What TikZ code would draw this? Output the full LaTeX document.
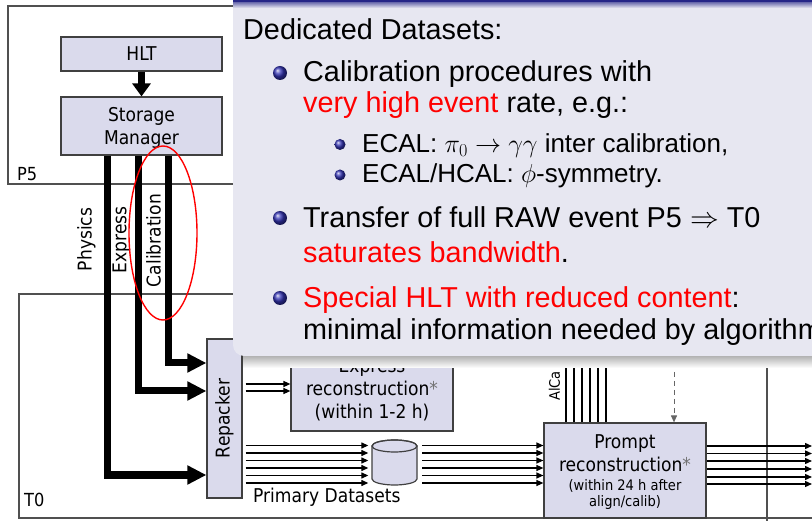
\RequirePackage{fix-cm}
\documentclass[tikz,border=0pt]{standalone}
\usepackage{fontspec}
\setmainfont{Liberation Sans}
\newfontfamily\dgfont{DejaVu Sans Condensed}
\usetikzlibrary{arrows.meta}
\definecolor{boxfill}{RGB}{218,218,236}
\definecolor{panel}{RGB}{231,231,241}
\definecolor{navy}{RGB}{38,38,135}
\definecolor{ballblue}{RGB}{51,51,179}
\definecolor{framegray}{RGB}{80,80,80}

\begin{document}
\begin{tikzpicture}[x=1pt,y=-1pt,
  site/.style={draw=framegray, line width=1.2pt},
  box/.style={draw=black!75, fill=boxfill, line width=1.2pt, inner sep=0},
  lbl/.style={font=\dgfont\fontsize{19}{23}\selectfont, inner sep=0, align=center},
  smalllbl/.style={font=\dgfont\fontsize{14.5}{15.5}\selectfont, inner sep=0, align=center},
  sitelbl/.style={font=\dgfont\fontsize{18}{20}\selectfont, inner sep=0},
  chan/.style={line width=7pt},
  bigtip/.style={-{Triangle[length=19pt,width=18pt]}},
  flow/.style={line width=1.3pt, -{Triangle[length=7pt,width=6pt]}},
  stream/.style={line width=1.3pt},
  txt/.style={anchor=base west, inner sep=0, font=\fontsize{28.8}{33}\selectfont},
  subtxt/.style={anchor=base west, inner sep=0, font=\fontsize{26}{30}\selectfont}]
\useasboundingbox (0,0) rectangle (812,521);
\fill[white] (0,0) rectangle (812,521);

% --- sites ---
\draw[site] (8,6) rectangle (300,184);
\node[sitelbl, anchor=west] (p5) at (17,174) {P5};
\draw[site] (19,294) rectangle (860,518);
\node[sitelbl, anchor=west] (t0) at (24,500) {T0};
\draw[site] (767,345) -- (767,530);

% --- online part ---
\node[box, lbl, minimum width=161pt, minimum height=34pt] (hlt) at (141.5,54) {HLT};
\node[box, minimum width=161pt, minimum height=58pt] (sm) at (141.5,126) {};
\node[lbl] (smlbl) at (141.5,127.5) {Storage\\Manager};
\draw[chan, -{Triangle[length=13pt,width=18pt]}] (hlt) -- (sm);

% --- Tier-0 processing ---
\node[box, minimum width=35pt, minimum height=159pt] (rep) at (224.5,418.5) {};
\node[lbl, rotate=90] (replbl) at (rep.center) {Repacker};

\node[box, minimum width=162pt, minimum height=96pt] (expr) at (372,383) {};
\node[lbl] (exprlbl) at (372,390) {Express\\reconstruction{\color{black!55}*}\\(within 1-2 h)};

\node[box, minimum width=162pt, minimum height=95pt] (prompt) at (625,470.5) {};
\node[lbl] (prlbl) at (625,453) {Prompt\\reconstruction{\color{black!55}*}};
\node[smalllbl] (prsub) at (625,494.5) {(within 24 h after\\align/calib)};

% primary dataset store
\node[inner sep=0, minimum width=52pt, minimum height=45pt] (db) at (394.5,462.5) {};
\filldraw[box] (372,446) -- (372,479) arc[start angle=180, end angle=0, x radius=22.5, y radius=6]
  -- (417,446) arc[start angle=0, end angle=-180, x radius=22.5, y radius=6] -- cycle;
\draw[line width=1.2pt, black!75] (394.5,446) ellipse [x radius=22.5, y radius=6];
\node[lbl, anchor=base west] (pdlbl) at (253,503) {Primary Datasets};

% streams out of the storage manager
\draw[chan, bigtip] (sm.south -| 107,0) |- (rep.west |- 0,475);
\draw[chan, bigtip] (sm.south -| 138.5,0) |- (rep.west |- 0,391);
\draw[chan, bigtip] (sm.south -| 168,0) |- (rep.west |- 0,363);
\node[lbl, rotate=90] (physlbl) at (86.5,239.5) {Physics};
\node[lbl, rotate=90] (explbl) at (121.5,240) {Express};
\node[lbl, rotate=90] (callbl) at (153.5,240.5) {Calibration};
\draw[red, line width=1.4pt] (163,233) ellipse [x radius=34, y radius=87];

% repacker outputs
\foreach \y in {384,391}
  \draw[flow, shorten <=3pt] (rep.east |- 0,\y) -- (expr.west |- 0,\y);
\foreach \y in {445.5,453,460.5,468,475.5,483}{
  \draw[flow, shorten <=3pt] (rep.east |- 0,\y) -- (db.west |- 0,\y);
  \draw[flow, shorten <=1.5pt] (db.east |- 0,\y) -- (prompt.west |- 0,\y);
}
% prompt outputs
\coordinate (edge) at (812,0);
\foreach \y in {446,453.5,461,469,477,484}
  \draw[flow] (prompt.east |- 0,\y) -- (edge |- 0,\y);

% AlCa streams and conditions input
\coordinate (alcatop) at (0,345);
\foreach \x in {566,574,582,590,598,606}
  \draw[stream] (\x,0 |- alcatop) -- (\x,0 |- prompt.north);
\node[smalllbl, rotate=90] (alcalbl) at (554.5,386) {AlCa};
\coordinate (dtop) at (674,345);
\draw[black!60, line width=1pt, dash pattern=on 5pt off 4pt, -{Triangle[length=7pt,width=6pt]}]
  (dtop) -- (674,0 |- prompt.north);

% --- slide panel on top ---
\shade[top color=black!45, bottom color=white] (243,350) rectangle (840,368);
\fill[panel, rounded corners=11pt] (233,-12) rectangle (840,356);
\fill[navy] (233,-1) rectangle (840,3);
\shade[top color=navy!55!panel, bottom color=panel] (233,3) rectangle (840,8);

\node[txt] (t1) at (243,40) {Dedicated Datasets:};
\shade[ball color=ballblue] (280,73) circle (7);
\node[txt] (t2) at (303,82) {Calibration procedures with};
\node[txt] (t3) at (303,112.5) {{\color{red}very high event} rate, e.g.:};
\shade[ball color=ballblue] (340,144.5) circle (5.5);
\node[subtxt] (t4) at (362,152.3) {ECAL: $\pi_0\rightarrow\gamma\gamma$ inter calibration,};
\shade[ball color=ballblue] (340,175) circle (5.5);
\node[subtxt] (t5) at (362,182.7) {ECAL/HCAL: $\phi$-symmetry.};
\shade[ball color=ballblue] (280,218) circle (7);
\node[txt] (t6) at (303,227.5) {Transfer of full RAW event P5 $\Rightarrow$ T0};
\node[txt] (t7) at (303,263) {{\color{red}saturates bandwidth}.};
\shade[ball color=ballblue] (280,298) circle (7);
\node[txt] (t8) at (303,307.5) {{\color{red}Special HLT with reduced content}:};
\node[txt] (t9) at (303,340) {minimal information needed by algorithms};
\end{tikzpicture}
\end{document}
